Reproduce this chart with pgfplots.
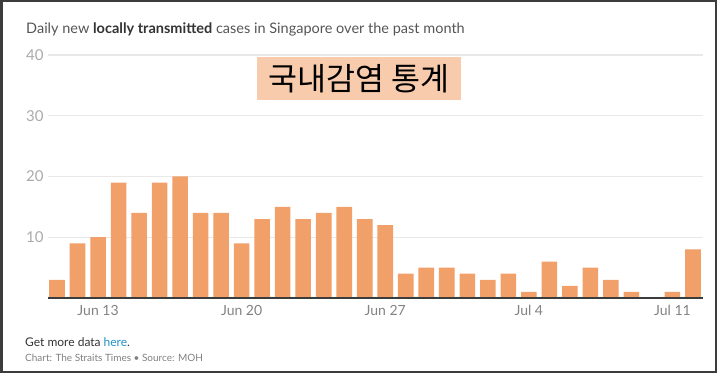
\documentclass[border=0pt]{standalone}
\usepackage{pgfplots}
\pgfplotsset{compat=1.18}
\usepackage{fontspec}
\setmainfont{Lato}
\newfontfamily\kr{Noto Sans CJK KR}
\definecolor{barc}{RGB}{240,160,104}
\definecolor{boxc}{HTML}{F8CBAD}
\definecolor{gridc}{RGB}{232,232,232}
\definecolor{tickc}{RGB}{170,170,170}
\definecolor{xtickc}{RGB}{130,130,130}
\definecolor{titlec}{RGB}{85,85,85}
\definecolor{framec}{RGB}{60,60,60}
\definecolor{linkc}{RGB}{30,144,200}
\begin{document}
\begin{tikzpicture}
\path[use as bounding box] (0bp,0bp) rectangle (718bp,375bp);
\draw[framec, line width=2bp] (1.5bp,2.5bp) rectangle (716bp,373.5bp);
\node[anchor=base west, inner sep=0pt, text=titlec, font=\fontsize{14.5bp}{17bp}\selectfont] at (26bp,341bp) {Daily new \textcolor{black!80}{\textbf{locally transmitted}} cases in Singapore over the past month};
\begin{axis}[
  at={(48bp,77bp)}, anchor=south west,
  scale only axis, width=655bp, height=243bp,
  xmin=0.56, xmax=32.49, ymin=0, ymax=40,
  axis line style={draw=none},
  ybar, bar width=15.6bp, bar shift=0pt,
  ytick={10,20,30,40},
  xtick={3,10,17,24,31},
  xticklabels={Jun 13,Jun 20,Jun 27,Jul 4,Jul 11},
  major tick length=0pt,
  ymajorgrids, grid style={gridc, line width=1.2bp},
  yticklabel style={anchor=west, inner sep=0pt, xshift=-22bp, text=tickc, font=\fontsize{15bp}{17bp}\selectfont},
  xticklabel style={anchor=north, inner sep=0pt, yshift=-7bp, text=xtickc, font=\fontsize{14bp}{16bp}\selectfont},
  /pgf/number format/assume math mode=true,
  clip=false,
]
\addplot[fill=barc, draw=none] coordinates {
(1,3) (2,9) (3,10) (4,19) (5,14) (6,19) (7,20) (8,14) (9,14) (10,9)
(11,13) (12,15) (13,13) (14,14) (15,15) (16,13) (17,12) (18,4) (19,5) (20,5)
(21,4) (22,3) (23,4) (24,1) (25,6) (26,2) (27,5) (28,3) (29,1) (30,0)
(31,1) (32,8)
};
\draw[framec, line width=1.6bp] (rel axis cs:0,0) -- (rel axis cs:1,0);
\end{axis}
\node[fill=boxc, minimum width=204bp, minimum height=43bp, inner sep=0pt, font=\kr\fontsize{31.5bp}{34bp}\selectfont] at (359bp,296.5bp) {국내감염 통계};
\node[anchor=base west, inner sep=0pt, text=black!80, font=\fontsize{12bp}{14bp}\selectfont] at (25bp,28.3bp) {Get more data \textcolor{linkc}{here}.};
\node[anchor=base west, inner sep=0pt, text=black!50, font=\fontsize{10bp}{12bp}\selectfont] at (25bp,13.3bp) {Chart: The Straits Times • Source: MOH};
\end{tikzpicture}
\end{document}
